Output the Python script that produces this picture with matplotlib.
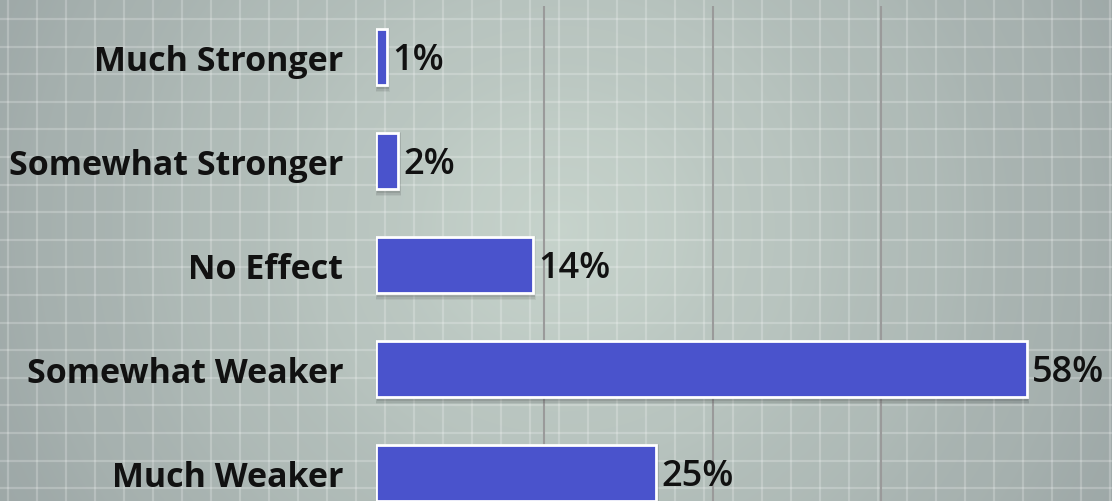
import numpy as np
import matplotlib
matplotlib.use("Agg")
from matplotlib import pyplot as plt
from matplotlib.patches import Rectangle

# chart data
categories = ["Much Stronger", "Somewhat Stronger", "No Effect", "Somewhat Weaker", "Much Weaker"]
values = [1, 2, 14, 58, 25]
value_labels = ["1%", "2%", "14%", "58%", "25%"]
grid_ticks = [15, 30, 45]

W, H = 1112, 502
DPI = 100
bar_color = "#4a53cc"

fig = plt.figure(figsize=(W / DPI, H / DPI), dpi=DPI)

# background: radial gradient with faint rings + graph paper lines
bg = fig.add_axes([0, 0, 1, 1], zorder=0)
yy, xx = np.mgrid[0:H, 0:W]
r = np.hypot((xx - 560) / 1.0, (yy - 230) / 0.95)
t = np.clip(r / 700, 0, 1)
t = t + 0.012 * np.sin(r / 22.0)  # subtle concentric banding
inner = np.array([0.78, 0.83, 0.80])
outer = np.array([0.60, 0.64, 0.64])
img = inner[None, None, :] * (1 - t[..., None]) + outer[None, None, :] * t[..., None]
bg.imshow(np.clip(img, 0, 1), extent=(0, W, H, 0), aspect="auto", interpolation="bilinear")
for x in np.arange(8, W, 29.0):
    bg.axvline(x, color="white", alpha=0.22, lw=1.6)
for y in np.arange(20, H, 27.6):
    bg.axhline(y, color="white", alpha=0.22, lw=1.6)
bg.set_xlim(0, W)
bg.set_ylim(H, 0)
bg.axis("off")

# main chart
left = 376 / W
top = 7 / H
ax = fig.add_axes([left, 0, 1 - left, 1 - top], zorder=1)
ax.patch.set_alpha(0)

pos = np.arange(len(categories))
bar_h = 0.54

# soft drop shadow
for grow, a in [(0.9, 0.05), (0.6, 0.07), (0.3, 0.09)]:
    for p, v in zip(pos, values):
        ax.add_patch(Rectangle((0.1 - grow * 0.15, p - bar_h / 2 + 0.03 - grow * 0.04),
                               v + grow * 0.3, bar_h + grow * 0.08,
                               facecolor="black", alpha=a, lw=0, zorder=2))

ax.barh(pos, values, height=bar_h, color=bar_color, edgecolor="white", linewidth=2, zorder=3)

for p, v, lab in zip(pos, values, value_labels):
    ax.text(v + 0.45, p + 0.03, lab, va="center", ha="left", fontsize=26,
            family="Open Sans", fontweight="semibold", color="#111111", zorder=4)

ax.set_xlim(0, 65.6)
ax.set_ylim(4.27, -0.49)
ax.set_xticks(grid_ticks)
ax.set_xticklabels([])
ax.xaxis.grid(True, color="#9a9a9a", lw=1.5, zorder=1)
ax.set_axisbelow(True)
ax.tick_params(axis="x", length=0)
ax.set_yticks(pos)
ax.set_yticklabels(categories, fontsize=24.5, family="Open Sans", fontweight="bold", color="#111111")
ax.tick_params(axis="y", length=0, pad=23.5)
for s in ax.spines.values():
    s.set_visible(False)

fig.savefig("out.png", dpi=DPI)
